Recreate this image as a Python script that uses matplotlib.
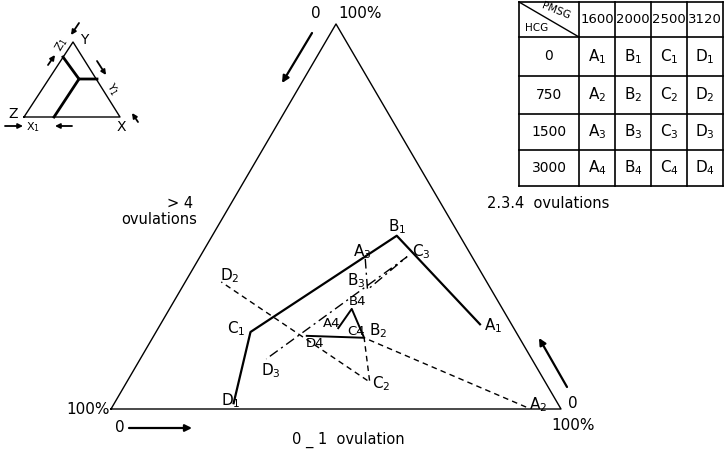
import numpy as np
import matplotlib
matplotlib.use("Agg")
import matplotlib.pyplot as plt

# ternary values in percent: (0-1 ovulation, >4 ovulations, 2.3.4 ovulations)
# one list per HCG dose, points ordered by PMSG dose (A, B, C, D)
hcg_doses = [0, 750, 1500, 3000]
pmsg_doses = [1600, 2000, 2500, 3120]
letters = ["A", "B", "C", "D"]

zero_one = [[71, 41, 21, 26.5],
            [92, 47, 54, 8],
            [37, 41.5, 46, 28],
            [40, 40.5, 47, 34]]
over_four = [[7, 14, 59, 72],
             [7.5, 34.5, 39, 59],
             [24, 27.5, 14.5, 59],
             [39, 33.5, 34.5, 47]]
two_three_four = [[22, 45, 20, 1.5],
                  [0.5, 18.5, 7, 33],
                  [39, 31, 39.5, 13],
                  [21, 26, 18.5, 19]]

# label offsets (pixels) for each point label
label_off = [[(13, -1), (0, 9), (-14, 3), (-3, 3)],
             [(12, 2), (14, 7), (11, -2), (9, 6)],
             [(-3, 7), (-11, 9), (14, 5), (5, -12)],
             [(-7, 5), (6, 7), (-8, 6), (8, -8)]]

styles = [dict(ls="-", lw=1.6),
          dict(ls=(0, (4, 3)), lw=1.0),
          dict(ls=(0, (7, 3, 1.5, 3)), lw=1.0),
          dict(ls="-", lw=1.4)]

H = np.sqrt(3) / 2


def tern(a, b, c):
    a, b, c = np.asarray(a, float), np.asarray(b, float), np.asarray(c, float)
    s = a + b + c
    return a / s + 0.5 * c / s, H * c / s


fig = plt.figure(figsize=(7.25, 4.53), dpi=100)
ax = fig.add_axes([0, 0, 1, 1])
ax.set_xlim(-111 / 450, 614 / 450)
ax.set_ylim(-44 / 444.6, 409 / 444.6)
ax.axis("off")

# main triangle
ax.plot([0, 1, 0.5, 0], [0, 0, H, 0], color="black", lw=1.0)

for i in range(4):
    x, y = tern(zero_one[i], over_four[i], two_three_four[i])
    ax.plot(x, y, color="black", **styles[i])
    for j in range(4):
        if i == 3:
            lab = letters[j] + "4"
            fs = 9.5
        else:
            lab = letters[j] + "$_{%d}$" % (i + 1)
            fs = 11
        ax.annotate(lab, (x[j], y[j]), xytext=label_off[i][j], textcoords="offset pixels",
                    ha="center", va="center", fontsize=fs)

# overlay in pixel coordinates for decorations
ov = fig.add_axes([0, 0, 1, 1])
ov.set_xlim(0, 725)
ov.set_ylim(453, 0)
ov.axis("off")
ov.patch.set_alpha(0)


def arrow(x0, y0, x1, y1, lw=1.6, ms=10):
    ov.annotate("", xy=(x1, y1), xytext=(x0, y0),
                arrowprops=dict(arrowstyle="-|>", lw=lw, color="black", mutation_scale=ms,
                                shrinkA=0, shrinkB=0))


# corner and side texts
ov.text(316, 14, "0", ha="center", va="center", fontsize=11)
ov.text(360, 14, "100%", ha="center", va="center", fontsize=11)
arrow(312, 33, 282, 83)
ov.text(193, 204, "> 4", ha="right", va="center", fontsize=10.5)
ov.text(197, 220, "ovulations", ha="right", va="center", fontsize=10.5)
ov.text(548, 204, "2.3.4  ovulations", ha="center", va="center", fontsize=10.5)
ov.text(110, 409, "100%", ha="right", va="center", fontsize=11)
ov.text(120, 428, "0", ha="center", va="center", fontsize=11)
arrow(129, 428, 192, 428)
ov.text(348, 440, "0 _ 1  ovulation", ha="center", va="center", fontsize=10.5)
ov.text(573, 404, "0", ha="center", va="center", fontsize=11)
ov.text(573, 426, "100%", ha="center", va="center", fontsize=11)
arrow(567, 387, 539, 338)

# small key triangle
ov.plot([24, 120, 73, 24], [117, 117, 42, 117], color="black", lw=1.0)
ov.plot([97, 79, 63], [79, 79, 57], color="black", lw=2.0)
ov.plot([79, 54], [79, 117], color="black", lw=2.0)
ov.text(13, 114, "Z", ha="center", va="center", fontsize=10)
ov.text(84, 40, "Y", ha="center", va="center", fontsize=10)
ov.text(121, 127, "X", ha="center", va="center", fontsize=10)
ov.text(62, 45, "Z$_1$", ha="center", va="center", fontsize=8, rotation=60)
ov.text(112, 89, "Y$_1$", ha="center", va="center", fontsize=8, rotation=-60)
ov.text(33, 127, "X$_1$", ha="center", va="center", fontsize=8)
arrow(79, 23, 71, 35, lw=1.3, ms=7)
arrow(48, 65, 55, 55, lw=1.3, ms=7)
arrow(97, 61, 106, 75, lw=1.3, ms=7)
arrow(5, 126, 23, 126, lw=1.3, ms=7)
arrow(72, 126, 55, 126, lw=1.3, ms=7)
arrow(138, 122, 132, 113, lw=1.3, ms=7)

# dose table
col_edges = [519, 579, 615, 651, 687, 723]
row_edges = [2, 37, 76, 114, 150, 186]
for cx in col_edges:
    ov.plot([cx, cx], [row_edges[0], row_edges[-1]], color="black", lw=1.2)
for ry in row_edges:
    ov.plot([col_edges[0], col_edges[-1]], [ry, ry], color="black", lw=1.2)
ov.plot([col_edges[0], col_edges[1]], [row_edges[0], row_edges[1]], color="black", lw=1.0)
ov.text(556, 11, "PMSG", ha="center", va="center", fontsize=7.5, rotation=-22)
ov.text(537, 28, "HCG", ha="center", va="center", fontsize=7.5)
for j, p in enumerate(pmsg_doses):
    ov.text((col_edges[j + 1] + col_edges[j + 2]) / 2, (row_edges[0] + row_edges[1]) / 2,
            str(p), ha="center", va="center", fontsize=9.5)
for i, h in enumerate(hcg_doses):
    yc = (row_edges[i + 1] + row_edges[i + 2]) / 2
    ov.text((col_edges[0] + col_edges[1]) / 2, yc, str(h), ha="center", va="center", fontsize=10)
    for j in range(4):
        ov.text((col_edges[j + 1] + col_edges[j + 2]) / 2, yc, letters[j] + "$_{%d}$" % (i + 1),
                ha="center", va="center", fontsize=11)

fig.savefig("out.png", dpi=100)
